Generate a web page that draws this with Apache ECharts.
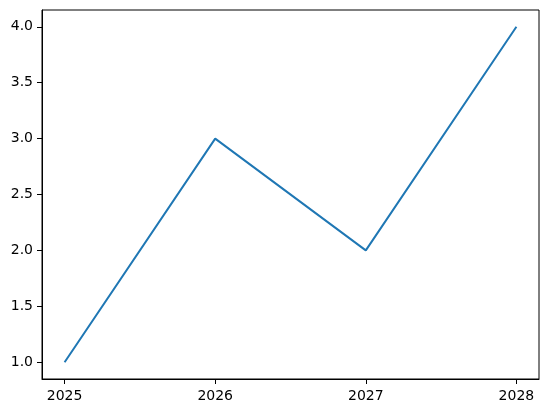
<!DOCTYPE html>
<html>
<head>
<meta charset="utf-8">
<script src="https://cdn.jsdelivr.net/npm/echarts@6/dist/echarts.min.js"></script>
<style>
  html, body { margin: 0; padding: 0; background: #fff; }
  #chart { width: 547px; height: 413px; }
</style>
</head>
<body>
<div id="chart"></div>
<script>
// data
const years = [2025, 2026, 2027, 2028]
const values = [1, 3, 2, 4]
const yTicks = [1.0, 1.5, 2.0, 2.5, 3.0, 3.5, 4.0]

window.onload = function () {
    var myChart = echarts.init(document.getElementById('chart'));

    const font = { fontFamily: 'DejaVu Sans', fontSize: 14, color: '#000' }

    var option = {
        animation: false,
        grid: {
            left: 42,
            right: 8,
            top: 10,
            bottom: 34,
            show: true,
            borderColor: '#000',
            borderWidth: 1,
            backgroundColor: 'transparent'
        },
        xAxis: {
            type: 'value',
            min: 2024.85,
            max: 2028.15,
            splitLine: { show: false },
            axisLine: { show: true, lineStyle: { color: '#000', width: 1 } },
            axisTick: { show: true, inside: false, length: 5, customValues: years, lineStyle: { color: '#000' } },
            axisLabel: Object.assign({ margin: 10, customValues: years, formatter: v => String(v) }, font)
        },
        yAxis: {
            type: 'value',
            min: 0.85,
            max: 4.15,
            splitLine: { show: false },
            axisLine: { show: true, lineStyle: { color: '#000', width: 1 } },
            axisTick: { show: true, inside: false, length: 5, customValues: yTicks, lineStyle: { color: '#000' } },
            axisLabel: Object.assign({ margin: 9, customValues: yTicks, formatter: v => v.toFixed(1) }, font)
        },
        series: [
            {
                type: 'line',
                data: years.map((y, i) => [y, values[i]]),
                showSymbol: false,
                lineStyle: { color: '#1f77b4', width: 2 },
                itemStyle: { color: '#1f77b4' }
            }
        ]
    };

    myChart.setOption(option);
}
</script>
</body>
</html>
